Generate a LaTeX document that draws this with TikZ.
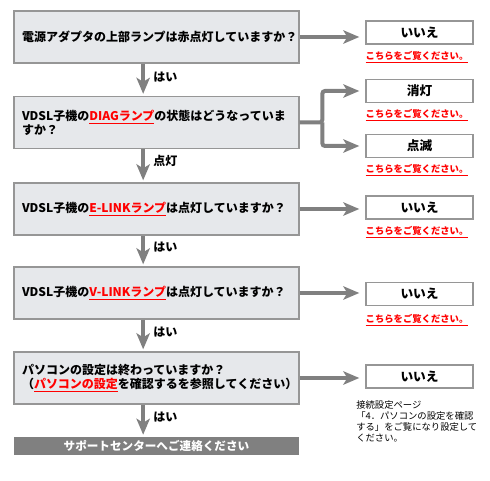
\documentclass[tikz,border=0pt]{standalone}
\usepackage{fontspec}
\setmainfont{Noto Sans CJK JP}
\usepackage{tikz}
\usetikzlibrary{arrows.meta, positioning}

\definecolor{boxfill}{RGB}{230,232,235}
\definecolor{boxline}{RGB}{150,150,150}
\definecolor{flowgray}{RGB}{128,128,128}
\definecolor{linkred}{RGB}{255,0,0}
\newcommand{\lnk}[1]{{\color{linkred}\underline{#1}}}

\begin{document}
\begin{tikzpicture}[x=0.75pt, y=-0.75pt,
  every node/.style={font=\bfseries\fontsize{9}{10.5}\selectfont},
  question/.style={draw=boxline, fill=boxfill, line width=1pt, minimum width=213.75pt,
    minimum height=39pt, text width=201.75pt, inner xsep=6pt, align=left},
  answer/.style={draw=boxline, fill=white, line width=1pt, minimum width=80.25pt,
    minimum height=17.25pt, font=\bfseries\fontsize{9.5}{11}\selectfont},
  link/.style={inner sep=0pt, font=\bfseries\fontsize{7}{8}\selectfont},
  yes/.style={anchor=west, inner sep=0pt},
  flow/.style={draw=flowgray, line width=3pt, rounded corners=2pt,
    -{Stealth[length=12pt, width=10pt, inset=3pt]}},
  support/.style={fill=flowgray, text=white, minimum width=213.75pt, minimum height=13.5pt,
    inner sep=0pt, font=\bfseries\fontsize{8.7}{10}\selectfont}]
  \useasboundingbox (0,0) rectangle (490,481);
  % questions
  \node[question] (q1) at (156.5,37) {電源アダプタの上部ランプは赤点灯していますか？};
  \node[question] (q2) at (156.5,122.5) {VDSL子機の\lnk{DIAGランプ}の状態はどうなっていま\\すか？};
  \node[question] (q3) at (156.5,209) {VDSL子機の\lnk{E-LINKランプ}は点灯していますか？};
  \node[question] (q4) at (156.5,293) {VDSL子機の\lnk{V-LINKランプ}は点灯していますか？};
  \node[question] (q5) at (156.5,378) {パソコンの設定は終わっていますか？\\（\lnk{パソコンの設定}を確認するを参照してください）};
  \node[support] (sc) at (156.5,446) {サポートセンターへご連絡ください};
  % answers
  \node[answer] (a1) at (419.5,32.5) {いいえ};
  \node[answer] (a2) at (419.5,91) {消灯};
  \node[answer] (a3) at (419.5,146) {点滅};
  \node[answer] (a4) at (419.5,207.5) {いいえ};
  \node[answer] (a5) at (419.5,294) {いいえ};
  \node[answer] (a6) at (419.5,376.5) {いいえ};
  % links below the answers
  \foreach \n/\y in {1/57, 2/115, 3/170, 4/232, 5/320}
    \node[link] (l\n) at (417,\y) {\lnk{こちらをご覧ください。}};
  \node[link, anchor=north west, align=left, font=\fontsize{7}{8.4}\selectfont] (note) at (356,400)
    {接続設定ページ\\「4．パソコンの設定を確認\\する」をご覧になり設定して\\ください。};
  % down arrows
  \foreach \a/\b in {q1/q2, q2/q3, q3/q4, q4/q5, q5/sc}
    \draw[flow, shorten >=1.5pt] ([xshift=-10pt]\a.south) -- ([xshift=-10pt]\b.north);
  \node[yes] (y1) at (153,77) {はい};
  \node[yes] (y2) at (153,161) {点灯};
  \node[yes] (y3) at (153,247) {はい};
  \node[yes] (y4) at (153,332) {はい};
  \node[yes] (y5) at (153,417) {はい};
  % right arrows
  \draw[flow, shorten >=4.5pt] (q1.east) -- (q1.east -| a1.west);
  \draw[flow, shorten >=4.5pt] (q3.east) -- (q3.east -| a4.west);
  \draw[flow, shorten >=4.5pt] (q4.east) -- (q4.east -| a5.west);
  \draw[flow, shorten >=4.5pt] (q5.east) -- (q5.east -| a6.west);
  \coordinate[right=17pt of q2.east] (split);
  \draw[flow, shorten >=4.5pt] (q2.east) -- (split) |- (a2.west);
  \draw[flow, shorten >=4.5pt] (split) |- (a3.west);
\end{tikzpicture}
\end{document}
